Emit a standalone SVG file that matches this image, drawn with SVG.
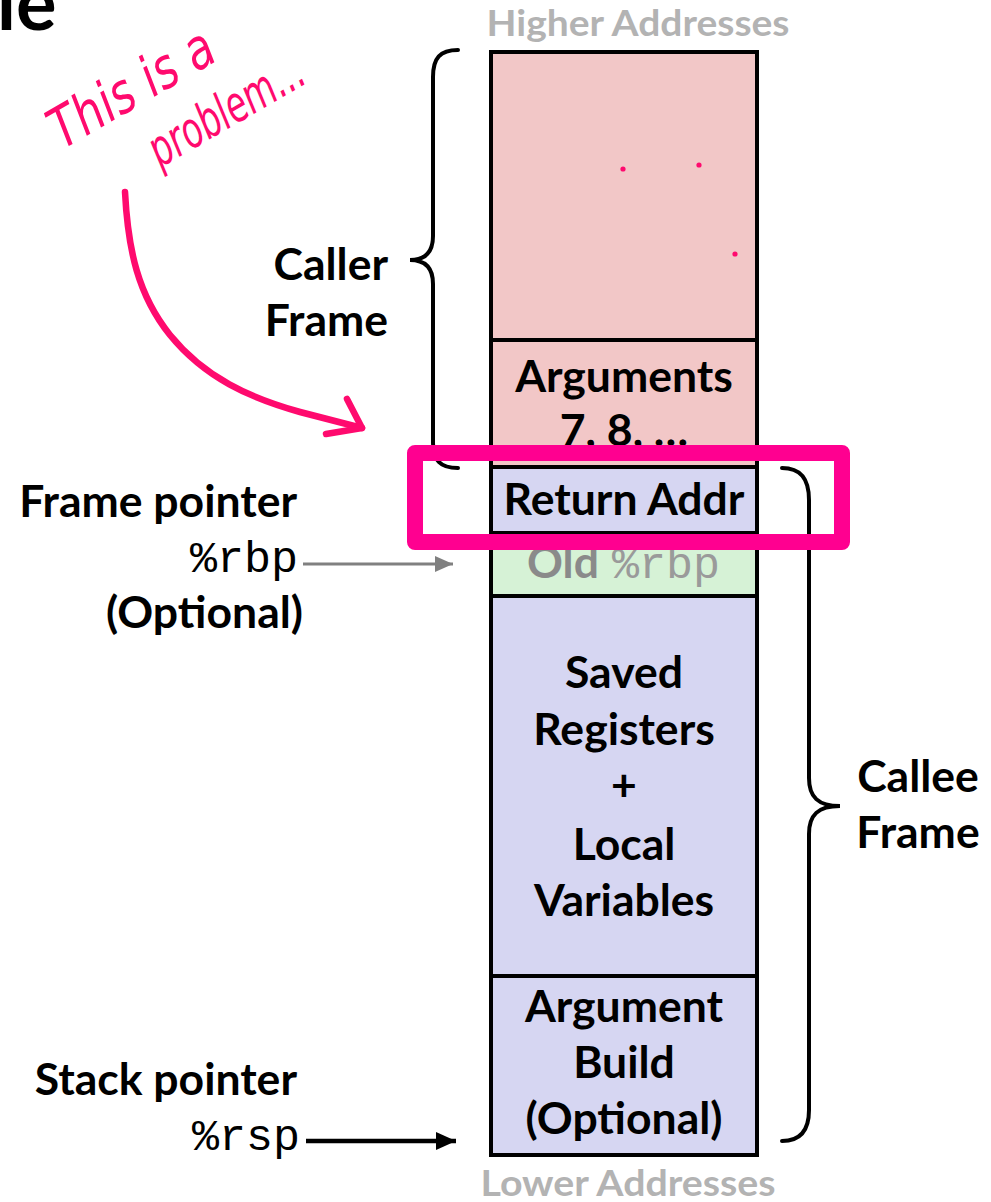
<svg xmlns="http://www.w3.org/2000/svg" width="991" height="1202" viewBox="0 0 991 1202">
  <style>
    .lbl { font-family: Lato, "Liberation Sans", sans-serif; font-weight: 700; font-size: 44.5px; fill: #000; }
    .mid { text-anchor: middle; }
    .end { text-anchor: end; }
    .mono { font-family: "Liberation Mono", "DejaVu Sans Mono", monospace; font-size: 45px; }
    .addr { font-family: Lato, "Liberation Sans", sans-serif; font-weight: 700; font-size: 36px; fill: #b3b3b3; text-anchor: middle; }
    .cell { stroke: #000; stroke-width: 4; }
    .caller { fill: #f2c7c7; }
    .callee { fill: #d6d6f2; }
    .brace { fill: none; stroke: #000; stroke-width: 4; stroke-linecap: round; }
    .ink { fill: none; stroke: #ff0a6e; stroke-width: 6.5; stroke-linecap: round; stroke-linejoin: round; }
    .hand { font-family: "Liberation Sans Narrow", "DejaVu Sans Condensed", sans-serif; font-style: italic; fill: #ff0a6e; }
  </style>
  <defs>
    <marker id="head-gray" markerUnits="userSpaceOnUse" markerWidth="20" markerHeight="18" refX="18" refY="9" orient="auto">
      <path d="M0,1 L18,9 L0,17 Z" fill="#808080"/>
    </marker>
    <marker id="head-black" markerUnits="userSpaceOnUse" markerWidth="22" markerHeight="20" refX="20" refY="10" orient="auto">
      <path d="M0,1 L20,10 L0,19 Z" fill="#000"/>
    </marker>
  </defs>

  <rect width="991" height="1202" fill="#fff"/>

  <!-- tail of the slide title, running off the top-left corner -->
  <text class="lbl" x="-3" y="30" style="font-size:76px">le</text>

  <text class="addr" x="638" y="36" textLength="303" lengthAdjust="spacingAndGlyphs">Higher Addresses</text>
  <text class="addr" x="628" y="1196" textLength="295" lengthAdjust="spacingAndGlyphs">Lower Addresses</text>

  <!-- caller frame cells -->
  <g id="caller-locals">
    <rect class="cell caller" x="491" y="52" width="266" height="288"/>
    <circle cx="623" cy="169" r="2.6" fill="#ff0a6e"/>
    <circle cx="699" cy="165" r="2.6" fill="#ff0a6e"/>
    <circle cx="735" cy="254" r="2.6" fill="#ff0a6e"/>
  </g>
  <g id="arguments">
    <rect class="cell caller" x="491" y="340" width="266" height="127"/>
    <text class="lbl mid" x="624" y="392">Arguments</text>
    <text class="lbl mid" x="624" y="446">7, 8, …</text>
  </g>

  <!-- callee frame cells -->
  <g id="return-addr">
    <rect class="cell callee" x="491" y="467" width="266" height="66"/>
    <text class="lbl mid" x="624" y="515">Return Addr</text>
  </g>
  <g id="old-rbp">
    <rect class="cell" x="491" y="533" width="266" height="63" fill="#d6f2d6"/>
    <text class="lbl" x="527" y="578" style="fill:#8a8a8a">Old</text>
    <text class="mono" x="612" y="578" fill="#9a9a9a">%rbp</text>
  </g>
  <g id="saved-locals">
    <rect class="cell callee" x="491" y="596" width="266" height="380"/>
    <text class="lbl mid" x="624" y="688">Saved</text>
    <text class="lbl mid" x="624" y="745">Registers</text>
    <text class="lbl mid" x="624" y="801">+</text>
    <text class="lbl mid" x="624" y="860">Local</text>
    <text class="lbl mid" x="624" y="916">Variables</text>
  </g>
  <g id="argument-build">
    <rect class="cell callee" x="491" y="976" width="266" height="179"/>
    <text class="lbl mid" x="624" y="1022">Argument</text>
    <text class="lbl mid" x="624" y="1078">Build</text>
    <text class="lbl mid" x="624" y="1134">(Optional)</text>
  </g>

  <!-- frame braces -->
  <g id="caller-frame">
    <path class="brace" d="M458,50 C440,50 433,58 433,77 L433,236 C433,252 425,260 410,260 C425,260 433,268 433,284 L433,443 C433,460 440,468 458,468"/>
    <text class="lbl end" x="388" y="280">Caller</text>
    <text class="lbl end" x="388" y="336">Frame</text>
  </g>
  <g id="callee-frame">
    <path class="brace" d="M782,468 C800,468 809,478 809,500 L809,778 C809,797 818,806 840,806 C818,806 809,815 809,834 L809,1110 C809,1131 800,1141 782,1141"/>
    <text class="lbl mid" x="918" y="792">Callee</text>
    <text class="lbl mid" x="918" y="848">Frame</text>
  </g>

  <!-- register labels -->
  <g id="frame-pointer">
    <text class="lbl end" x="297" y="517">Frame pointer</text>
    <text class="mono end" x="298" y="572">%rbp</text>
    <text class="lbl end" x="303" y="628">(Optional)</text>
  </g>
  <g id="stack-pointer">
    <text class="lbl end" x="297" y="1095">Stack pointer</text>
    <text class="mono end" x="300" y="1150">%rsp</text>
  </g>

  <g id="connectors">
    <line x1="303" y1="564" x2="453" y2="564" stroke="#808080" stroke-width="3" marker-end="url(#head-gray)"/>
    <line x1="306" y1="1141" x2="456" y2="1141" stroke="#000" stroke-width="4.5" marker-end="url(#head-black)"/>
  </g>

  <!-- highlight around the return address -->
  <rect x="415" y="453" width="427" height="89" fill="none" stroke="#ff0090" stroke-width="16" stroke-linejoin="round"/>

  <!-- handwritten note -->
  <g id="note">
    <text class="hand" font-size="56" transform="translate(62,150) rotate(-30)" textLength="182" lengthAdjust="spacingAndGlyphs">This is a</text>
    <text class="hand" font-size="50" transform="translate(160,168) rotate(-30)" textLength="172" lengthAdjust="spacingAndGlyphs">problem...</text>
    <path class="ink" d="M125,192 C128,250 138,295 170,335 C205,378 250,398 300,412 L362,428"/>
    <path class="ink" d="M347,399 L362,428 L326,434"/>
  </g>
</svg>
